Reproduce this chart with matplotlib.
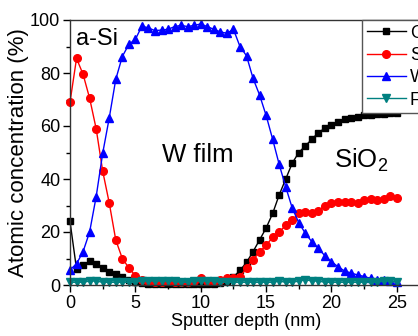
import numpy as np
import matplotlib
matplotlib.use("Agg")
import matplotlib.pyplot as plt
from matplotlib.ticker import MultipleLocator

plt.rcParams['font.family'] = ['Liberation Sans', 'DejaVu Sans']
plt.rcParams['mathtext.fontset'] = 'custom'
plt.rcParams['mathtext.rm'] = 'Liberation Sans'
plt.rcParams['mathtext.it'] = 'Liberation Sans:italic'

# sputter depth (nm), 0.5 nm steps
depth = np.arange(0, 25.01, 0.5)

o_conc = [24, 6, 7.5, 9, 8, 6.5, 5, 4, 3, 2,
          1.2, 0.8, 0.5, 0.5, 0.5, 0.5, 0.5, 0.5, 0.5, 0.5,
          0.5, 0.5, 0.5, 0.8, 1.5, 3, 5.5, 8.5, 12.6, 17,
          21.5, 27, 34, 40, 46, 50, 52.5, 55, 57.5, 59.2,
          60.5, 61.5, 62.5, 63, 63.5, 64, 64.3, 64.5, 64.7, 64.8,
          65]
si_conc = [69, 85.5, 79.5, 70.5, 59, 43, 31, 17, 10, 6.5,
           3.5, 2, 1.5, 1.2, 1, 1.5, 1, 1, 1.2, 1.5,
           2.5, 1.5, 1.5, 2, 2.5, 2.5, 3, 6.5, 9.5, 12.5,
           15, 18, 20, 22.5, 24.5, 27, 27.5, 27, 28, 30,
           31, 31.5, 31.5, 31.5, 31, 32, 32.5, 32, 32.5, 33.5,
           33]
w_conc = [5.7, 8, 12.6, 20, 33.3, 49.7, 63, 77.6, 86.2, 90.8,
          92.7, 97.7, 97, 96, 96.2, 96.5, 97.5, 98, 97.5, 98,
          98.5, 97.5, 96.5, 95.5, 95, 96.5, 90, 86.5, 78, 71.7,
          64, 55, 45.5, 37, 29, 23.5, 19.5, 16.3, 13.8, 11,
          8.8, 6.9, 5.3, 4.5, 3.8, 3.2, 2.5, 2, 1.7, 1.4,
          1.2]
f_conc = [1, 1, 1, 1.5, 1.5, 1, 1, 1, 1, 1,
          1, 1.5, 1.5, 1.5, 1.5, 1.5, 1.5, 1, 1, 1.5,
          1.5, 1.5, 1.5, 1, 1, 1, 1, 1, 1, 1,
          1, 1, 1.5, 1, 1, 1.5, 2, 1.5, 1.5, 1,
          1, 1, 1, 1, 1, 1, 1, 1, 1.5, 1.5,
          1]

W, H = 418, 336
fig = plt.figure(figsize=(W / 100, H / 100), dpi=100)
# axes run past the right edge of the picture, like the cropped original
ax = fig.add_axes([70 / W, 51 / H, 353 / W, 265 / H])

ax.plot(depth, o_conc, color='black', marker='s', ms=5, lw=1, label='O', clip_on=False)
ax.plot(depth, si_conc, color='red', marker='o', ms=5.5, lw=1, label='Si', clip_on=False)
ax.plot(depth, w_conc, color='blue', marker='^', ms=6, lw=1, label='W', clip_on=False)
ax.plot(depth, f_conc, color='#008080', marker='v', ms=6, lw=1, label='F', clip_on=False)

ax.set_xlim(0, 27)
ax.set_ylim(0, 100)
ax.xaxis.set_major_locator(MultipleLocator(5))
ax.xaxis.set_minor_locator(MultipleLocator(2.5))
ax.yaxis.set_major_locator(MultipleLocator(20))
ax.yaxis.set_minor_locator(MultipleLocator(10))
ax.tick_params(which='major', direction='out', length=5, width=1, labelsize=13, pad=2)
ax.tick_params(which='minor', direction='out', length=3, width=1)
for sp in ax.spines.values():
    sp.set_color('#333333')
    sp.set_linewidth(1)

ax.set_xlabel('Sputter depth (nm)', fontsize=13, labelpad=1)
ax.set_ylabel('Atomic concentration (%)', fontsize=16, labelpad=1)

ax.text(2.1, 93, 'a-Si', fontsize=17, ha='center', va='center')
ax.text(9.8, 49, 'W film', fontsize=18.5, ha='center', va='center')
ax.text(22.3, 47, 'SiO$_2$', fontsize=18.5, ha='center', va='center')

# legend is cut by the right edge in the original too
ax.legend(loc='upper left', bbox_to_anchor=(362 / W, 1 - 20 / H),
          bbox_transform=fig.transFigure, borderaxespad=0, fontsize=13,
          handlelength=2.2, handletextpad=0.2, labelspacing=0.3,
          borderpad=0.25, fancybox=False, edgecolor='#555555', framealpha=1)

fig.savefig('out.png', dpi=100)
